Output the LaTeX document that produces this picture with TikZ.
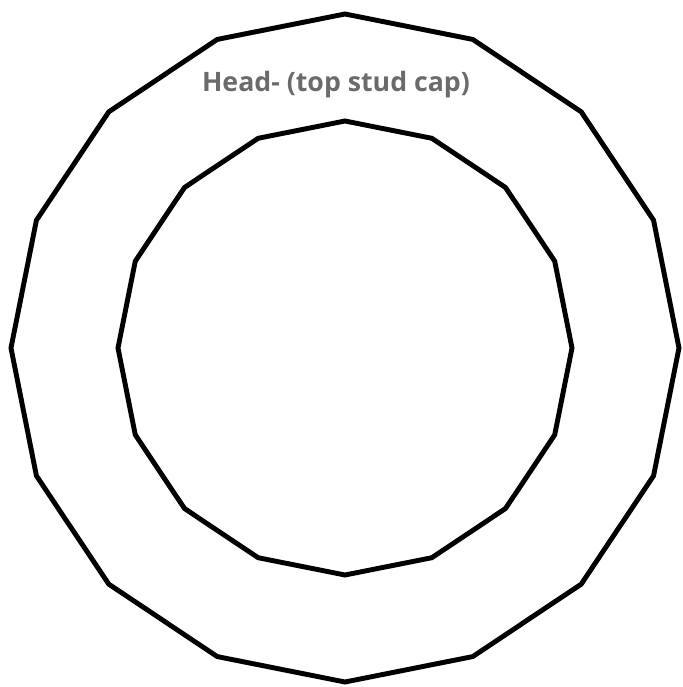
\documentclass[tikz,border=0pt]{standalone}
\usepackage{fontspec}
\setmainfont{Open Sans}
\definecolor{capgray}{HTML}{6B6B6B}
\begin{document}
\begin{tikzpicture}[line width=2.8pt, line join=miter]
\useasboundingbox (-6.9,-6.78) rectangle (6.76,6.96);
% outer and inner rim
\draw (90:6.68) \foreach \i in {1,...,15} { -- (90+\i*22.5:6.68) } -- cycle;
\draw (90:4.54) \foreach \i in {1,...,15} { -- (90+\i*22.5:4.54) } -- cycle;

\node[text=capgray, font=\fontsize{15.2}{18}\selectfont\bfseries] (label) at (-0.18,5.27) {Head- (top stud cap)};
\end{tikzpicture}
\end{document}
